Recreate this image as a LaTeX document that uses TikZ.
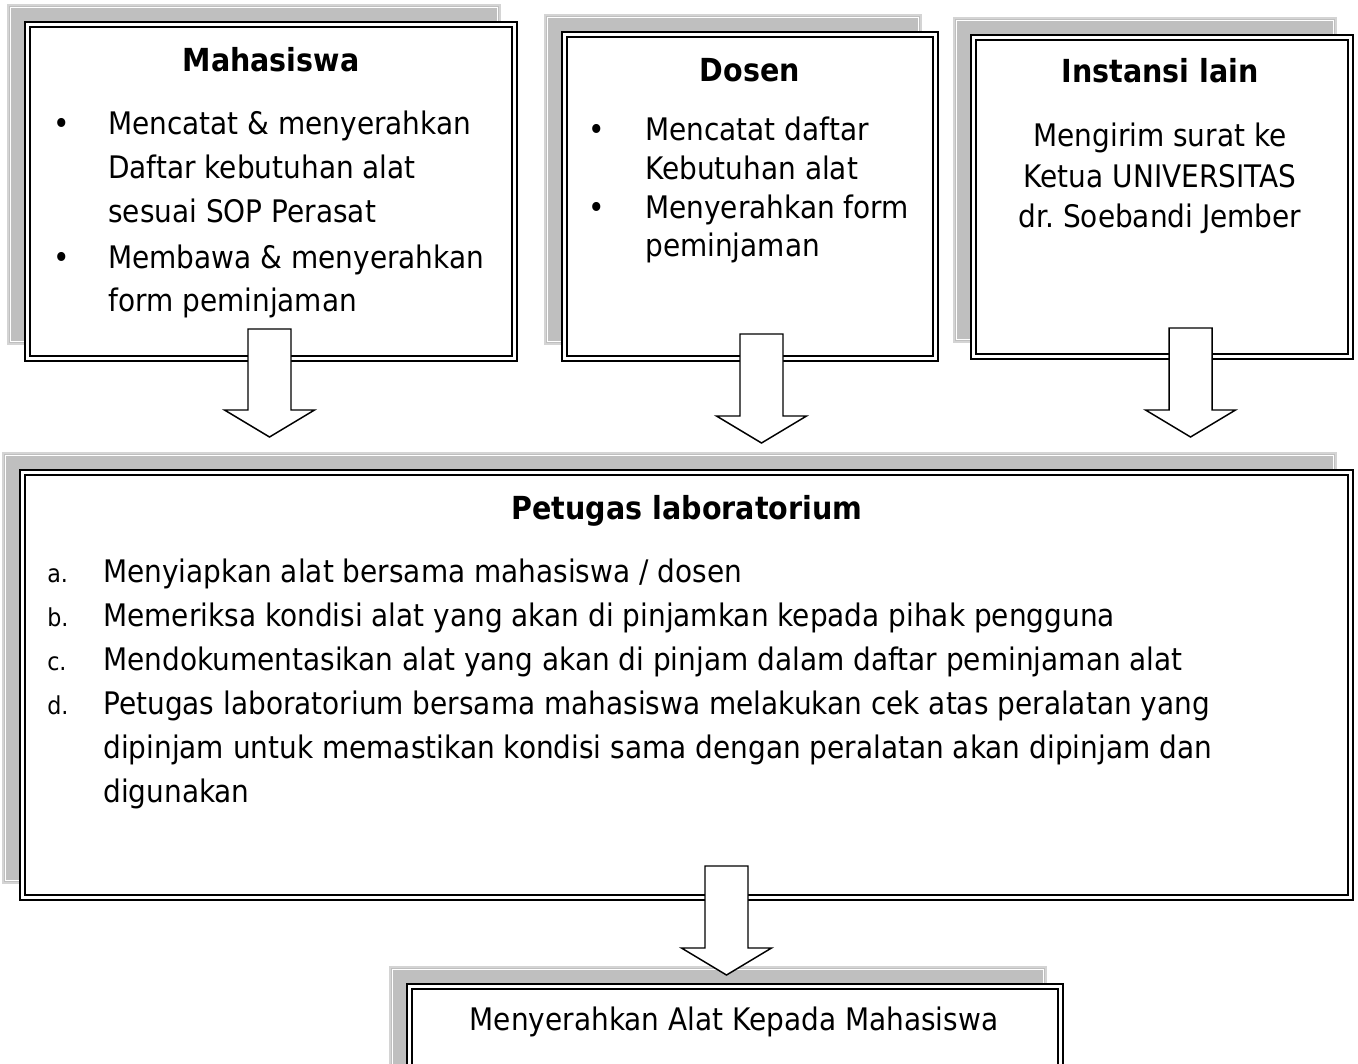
\documentclass[tikz,border=0pt]{standalone}
\usepackage{fontspec}
\setmainfont{DejaVu Sans}[FakeStretch=0.9]
\frenchspacing
\usetikzlibrary{fit,calc}
\definecolor{shgray}{HTML}{BFBFBF}
\definecolor{shline}{HTML}{D4D4D4}
\tikzset{
 boxouter/.style={draw=black, line width=1.6pt, fill=white, inner sep=0pt, outer sep=0pt},
 boxinner/.style={draw=black, line width=1.1pt},
 shadowbox/.style={fill=shgray, draw=shline, line width=1.2pt},
 shadowinner/.style={draw=white, line width=0.6pt},
 txt/.style={inner sep=0pt, font=\fontsize{23.3}{27}\selectfont, anchor=base west},
 ctxt/.style={inner sep=0pt, font=\fontsize{23.3}{27}\selectfont, anchor=base},
 ttl/.style={inner sep=0pt, font=\fontsize{23.8}{27}\selectfont\bfseries, anchor=base},
 lbl/.style={inner sep=0pt, font=\fontsize{18.5}{21}\selectfont, anchor=base west},
 bul/.style={inner sep=0pt, font=\fontsize{23.3}{27}\selectfont, anchor=base},
 blockarr/.style={draw=black, line width=1.1pt, fill=white, line join=miter},
}
\newcommand\shadowrect[4]{%
 \path[shadowbox] (#1-17,#2-17) rectangle (#3-17,#4-17);
 \draw[shadowinner] (#1-14.5,#2-14.5) rectangle (#3-19.5,#4-19.5);
}
\newcommand\mkbox[5]{%
 \node[boxouter, fit={(#2,#3)(#4,#5)}] (#1) {};
 \draw[boxinner] ([shift={(5,5)}]#1.north west) rectangle ([shift={(-5,-5)}]#1.south east);
}
\newcommand\blockarrow[4]{%
 \coordinate (#1s) at (#2,#3);
 \coordinate (#1e) at (#2,#4);
 \draw[blockarr] (#2-21.5,#3) -- (#2+21.5,#3) -- (#2+21.5,#4-27) -- (#2+45,#4-27) -- (#1e) -- (#2-45,#4-27) -- (#2-21.5,#4-27) -- cycle;
}
\begin{document}
\begin{tikzpicture}[x=0.75pt,y=-0.75pt]
\useasboundingbox (0,0) rectangle (1358,1063);
\fill[white] (0,0) rectangle (1358,1063);
% shadows
\shadowrect{25}{22}{517}{361}
\shadowrect{562}{32}{938}{361}
\shadowrect{971}{35}{1353}{359}
\shadowrect{20}{470}{1353}{900}
\shadowrect{407}{984}{1063}{1100}
% boxes
\mkbox{mhs}{25}{22}{517}{361}
\mkbox{dsn}{562}{32}{938}{361}
\mkbox{ins}{971}{35}{1353}{359}
\mkbox{ptg}{20}{470}{1353}{900}
\mkbox{srh}{407}{984}{1063}{1100}
% Mahasiswa
\node[ttl] (t1) at (271,71) {Mahasiswa};
\node[bul] (b11) at (62,134) {•};
\node[txt] (m1) at (108,134) {Mencatat \& menyerahkan};
\node[txt] (m2) at (108,178) {Daftar kebutuhan alat};
\node[txt] (m3) at (108,222) {sesuai SOP Perasat};
\node[bul] (b12) at (62,268) {•};
\node[txt] (m4) at (108,268) {Membawa \& menyerahkan};
\node[txt] (m5) at (108,311) {form peminjaman};
% Dosen
\node[ttl] (t2) at (750,81) {Dosen};
\node[bul] (b21) at (597,140) {•};
\node[txt] (d1) at (645,140) {Mencatat daftar};
\node[txt] (d2) at (645,179) {Kebutuhan alat};
\node[bul] (b22) at (597,218) {•};
\node[txt] (d3) at (645,218) {Menyerahkan form};
\node[txt] (d4) at (645,256) {peminjaman};
% Instansi
\node[ttl] (t3) at (1160,83) {Instansi lain};
\node[ctxt] (i1) at (1160,146) {Mengirim surat ke};
\node[ctxt] (i2) at (1160,187) {Ketua UNIVERSITAS};
\node[ctxt] (i3) at (1160,227) {dr. Soebandi Jember};
% Petugas
\node[ttl] (t4) at (687,519) {Petugas laboratorium};
\node[lbl] (la) at (47,582) {a.};
\node[txt] (p1) at (103,582) {Menyiapkan alat bersama mahasiswa / dosen};
\node[lbl] (lb) at (47,626) {b.};
\node[txt] (p2) at (103,626) {Memeriksa kondisi alat yang akan di pinjamkan kepada pihak pengguna};
\node[lbl] (lc) at (47,670) {c.};
\node[txt] (p3) at (103,670) {Mendokumentasikan alat yang akan di pinjam dalam daftar peminjaman alat};
\node[lbl] (ld) at (47,714) {d.};
\node[txt] (p4) at (103,714) {Petugas laboratorium bersama mahasiswa melakukan cek atas peralatan yang};
\node[txt] (p5) at (103,758) {dipinjam untuk memastikan kondisi sama dengan peralatan akan dipinjam dan};
\node[txt] (p6) at (103,802) {digunakan};
% bottom
\node[ctxt] (s1) at (734,1030) {Menyerahkan Alat Kepada Mahasiswa};
% arrows
\blockarrow{a1}{269.5}{329}{437}
\blockarrow{a2}{761.5}{334}{443}
\blockarrow{a3}{1190.5}{328}{437}
\blockarrow{a4}{726.5}{866}{975}
\end{tikzpicture}
\end{document}
